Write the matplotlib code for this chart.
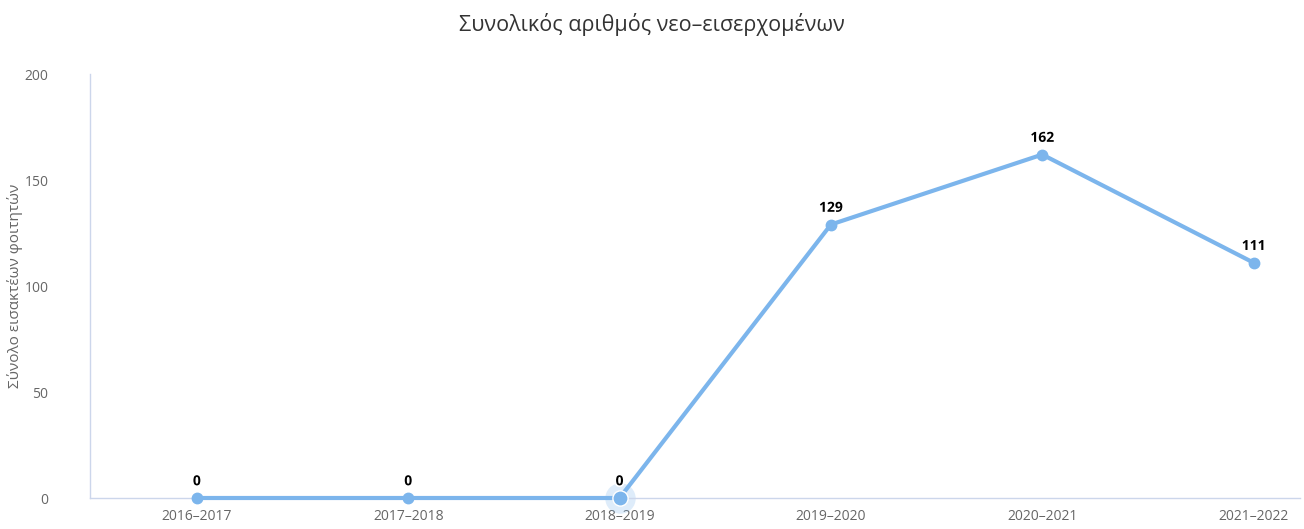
import matplotlib.pyplot as plt
import matplotlib.patheffects as pe

plt.rcParams['font.family'] = ['Open Sans', 'DejaVu Sans']

years = ['2016-2017', '2017-2018', '2018-2019', '2019-2020', '2020-2021', '2021-2022']
students = [0, 0, 0, 129, 162, 111]
y_ticks = [0, 50, 100, 150, 200]

LINE_COLOR = '#7cb5ec'
AXIS_COLOR = '#ccd6eb'

fig = plt.figure(figsize=(13.04, 5.29), dpi=100)
ax = fig.add_axes([0.069, 0.0586, 0.928, 0.8015])

x = list(range(len(years)))
ax.plot(x, students, color=LINE_COLOR, lw=3, marker='o', ms=7.5,
        markeredgecolor=LINE_COLOR, solid_capstyle='round', zorder=3, clip_on=False)

# hover halo on the third point
ax.scatter([x[2]], [students[2]], s=480, color=LINE_COLOR, alpha=0.25, lw=0, zorder=2, clip_on=False)
ax.scatter([x[2]], [students[2]], s=120, color=LINE_COLOR, edgecolor='white', lw=1, zorder=4, clip_on=False)

for xi, v in zip(x, students):
    ax.annotate(str(v), (xi, v), xytext=(0, 7), textcoords='offset points',
                ha='center', va='bottom', fontsize=10, fontweight='bold', color='black',
                path_effects=[pe.withStroke(linewidth=2.5, foreground='white')], zorder=5)

ax.set_xlim(-0.506, 5.22)
ax.set_ylim(0, 200)
ax.set_xticks(x)
ax.set_xticklabels([y.replace('-', '\u2013') for y in years])
ax.set_yticks(y_ticks)

for s in ['top', 'right']:
    ax.spines[s].set_visible(False)
for s in ['left', 'bottom']:
    ax.spines[s].set_color(AXIS_COLOR)
    ax.spines[s].set_linewidth(1)

ax.tick_params(axis='both', length=0, labelsize=10, colors='#666666')
ax.tick_params(axis='x', pad=8)
ax.tick_params(axis='y', pad=30)

ax.set_ylabel('Σύνολο εισακτέων φοιτητών', fontsize=11, color='#666666', labelpad=12)
ax.yaxis.set_label_coords(-0.055, 0.5)

fig.suptitle('Συνολικός αριθμός νεο\u2013εισερχομένων', fontsize=15.5, color='#333333', y=0.975)

fig.savefig('out.png', dpi=100)
